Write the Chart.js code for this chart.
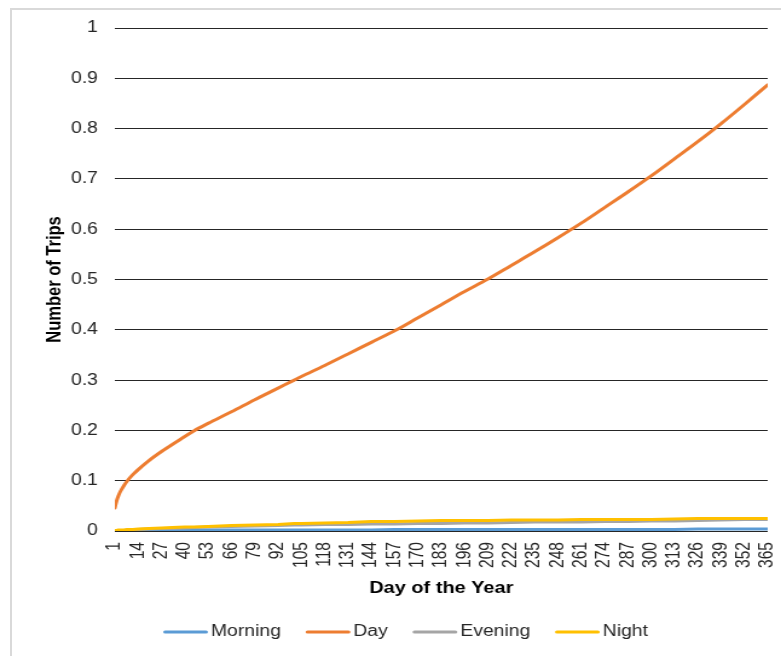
<!DOCTYPE html>
<html>
<head>
<meta charset="utf-8">
<script src="https://cdn.jsdelivr.net/npm/chart.js@4.4.1/dist/chart.umd.min.js"></script>
<style>
  html, body { margin: 0; padding: 0; background: #ffffff; }
  #wrap { position: relative; width: 781px; height: 656px; overflow: hidden; }
  #frame { position: absolute; left: 10px; top: 8px; width: 800px; height: 700px;
           border: 2px solid #d9d9d9; box-sizing: border-box; }
  /* the chart is laid out on a narrower canvas and widened to the page */
  #chart { position: absolute; left: 0; top: 0; transform-origin: 0 0; transform: scaleX(1.209); }
</style>
</head>
<body>
<div id="wrap">
  <div id="frame"></div>
  <canvas id="chart" width="646" height="656"></canvas>
</div>
<script>
// Days of the year at which each series is sampled
const days = [1, 2, 3, 4, 6, 8, 11, 14, 20, 27, 33, 40, 45, 53, 66, 79, 92, 101, 105,
  118, 131, 144, 157, 170, 183, 196, 209, 222, 235, 248, 261, 274, 287, 300, 313,
  326, 339, 352, 365];

// Trips per period of the day
const morning = [0, 0, 0, 0, 0, 0, 0.001, 0.001, 0.001, 0.001, 0.001, 0.001, 0.002, 0.002, 0.002,
  0.002, 0.002, 0.002, 0.002, 0.002, 0.002, 0.002, 0.003, 0.003, 0.003, 0.003, 0.003, 0.003,
  0.003, 0.003, 0.003, 0.003, 0.003, 0.003, 0.003, 0.004, 0.004, 0.004, 0.004];
const day = [0.046, 0.060, 0.070, 0.078, 0.090, 0.100, 0.112, 0.122, 0.140, 0.158, 0.172,
  0.188, 0.199, 0.214, 0.237, 0.261, 0.284, 0.300, 0.307, 0.329, 0.352, 0.375, 0.398,
  0.424, 0.450, 0.476, 0.501, 0.528, 0.555, 0.583, 0.612, 0.643, 0.674, 0.706, 0.740,
  0.774, 0.810, 0.848, 0.887];
const evening = [0, 0, 0.001, 0.001, 0.001, 0.002, 0.002, 0.003, 0.004, 0.005, 0.005, 0.006,
  0.007, 0.008, 0.009, 0.010, 0.011, 0.012, 0.012, 0.013, 0.013, 0.014, 0.014, 0.015, 0.015,
  0.016, 0.016, 0.017, 0.018, 0.018, 0.018, 0.019, 0.019, 0.020, 0.020, 0.021, 0.022, 0.023, 0.023];
const night = [0.001, 0.001, 0.002, 0.002, 0.002, 0.003, 0.003, 0.004, 0.005, 0.006, 0.007,
  0.008, 0.008, 0.009, 0.011, 0.012, 0.013, 0.015, 0.015, 0.016, 0.017, 0.019, 0.019, 0.020,
  0.021, 0.021, 0.021, 0.022, 0.022, 0.022, 0.023, 0.023, 0.023, 0.023, 0.024, 0.025, 0.025,
  0.025, 0.025];

// Labelled days on the horizontal axis (every 13th day)
const dayTicks = [1, 14, 27, 40, 53, 66, 79, 92, 105, 118, 131, 144, 157, 170, 183, 196, 209,
  222, 235, 248, 261, 274, 287, 300, 313, 326, 339, 352, 365];

const seriesNames = ['Morning', 'Day', 'Evening', 'Night'];
const seriesColors = ['#5B9BD5', '#ED7D31', '#A5A5A5', '#FFC000'];
const seriesValues = [morning, day, evening, night];

const FONT = '"Liberation Sans", Arial, sans-serif';
const TEXT = '#262626';

const datasets = seriesNames.map((name, i) => ({
  label: name,
  data: days.map((d, k) => ({ x: d, y: seriesValues[i][k] })),
  borderColor: seriesColors[i],
  backgroundColor: seriesColors[i],
  borderWidth: 3,
  pointRadius: 0,
  borderCapStyle: 'round',
  borderJoinStyle: 'round',
  cubicInterpolationMode: name === 'Day' ? 'monotone' : 'default',
  tension: 0,
  // later series are painted above earlier ones
  order: seriesNames.length - i
}));

// Legend row under the axis title: short line swatch followed by the series name
const lineLegend = {
  id: 'lineLegend',
  afterDraw(chart) {
    const ctx = chart.ctx;
    const y = 632;
    const swatch = 37;
    let x = 135;
    ctx.save();
    ctx.font = '16px ' + FONT;
    ctx.textBaseline = 'middle';
    ctx.textAlign = 'left';
    chart.data.datasets.forEach((ds) => {
      ctx.strokeStyle = ds.borderColor;
      ctx.lineWidth = 3;
      ctx.lineCap = 'round';
      ctx.beginPath();
      ctx.moveTo(x + 1.5, y);
      ctx.lineTo(x + swatch - 1.5, y);
      ctx.stroke();
      x += swatch + 2.5;
      ctx.fillStyle = TEXT;
      ctx.fillText(ds.label, x, y);
      x += ctx.measureText(ds.label).width + 20.5;
    });
    ctx.restore();
  }
};

new Chart(document.getElementById('chart'), {
  type: 'line',
  data: { datasets },
  plugins: [lineLegend],
  options: {
    responsive: false,
    animation: false,
    events: [],
    layout: { padding: { left: 30, right: 11, top: 28, bottom: 53 } },
    plugins: {
      tooltip: { enabled: false },
      legend: { display: false }
    },
    scales: {
      x: {
        type: 'linear',
        min: 1,
        max: 365,
        afterBuildTicks: (scale) => { scale.ticks = dayTicks.map(v => ({ value: v })); },
        afterFit: (scale) => {
          scale.height = 72;
          scale.paddingLeft = 0;
          scale.paddingRight = 0;
        },
        grid: { display: false, drawTicks: false },
        border: { display: false },
        ticks: {
          autoSkip: false,
          minRotation: 90,
          maxRotation: 90,
          padding: 11,
          color: TEXT,
          font: { family: FONT, size: 15.6 },
          callback: (v) => String(v)
        },
        title: {
          display: true,
          text: 'Day of the Year',
          color: '#000',
          font: { family: FONT, size: 16.5, weight: 'bold' },
          padding: { top: 6, bottom: 5 }
        }
      },
      y: {
        min: 0,
        max: 1,
        afterFit: (scale) => { scale.width = 65; },
        grid: { color: '#262626', lineWidth: 1, drawTicks: false },
        border: { display: false },
        ticks: {
          stepSize: 0.1,
          padding: 14,
          color: TEXT,
          font: { family: FONT, size: 16 },
          callback: (v) => String(Math.round(v * 10) / 10)
        },
        title: {
          display: true,
          text: 'Number of Trips',
          color: '#000',
          font: { family: FONT, size: 16.5, weight: 'bold' },
          padding: { top: 6, bottom: 3 }
        }
      }
    }
  }
});
</script>
</body>
</html>
